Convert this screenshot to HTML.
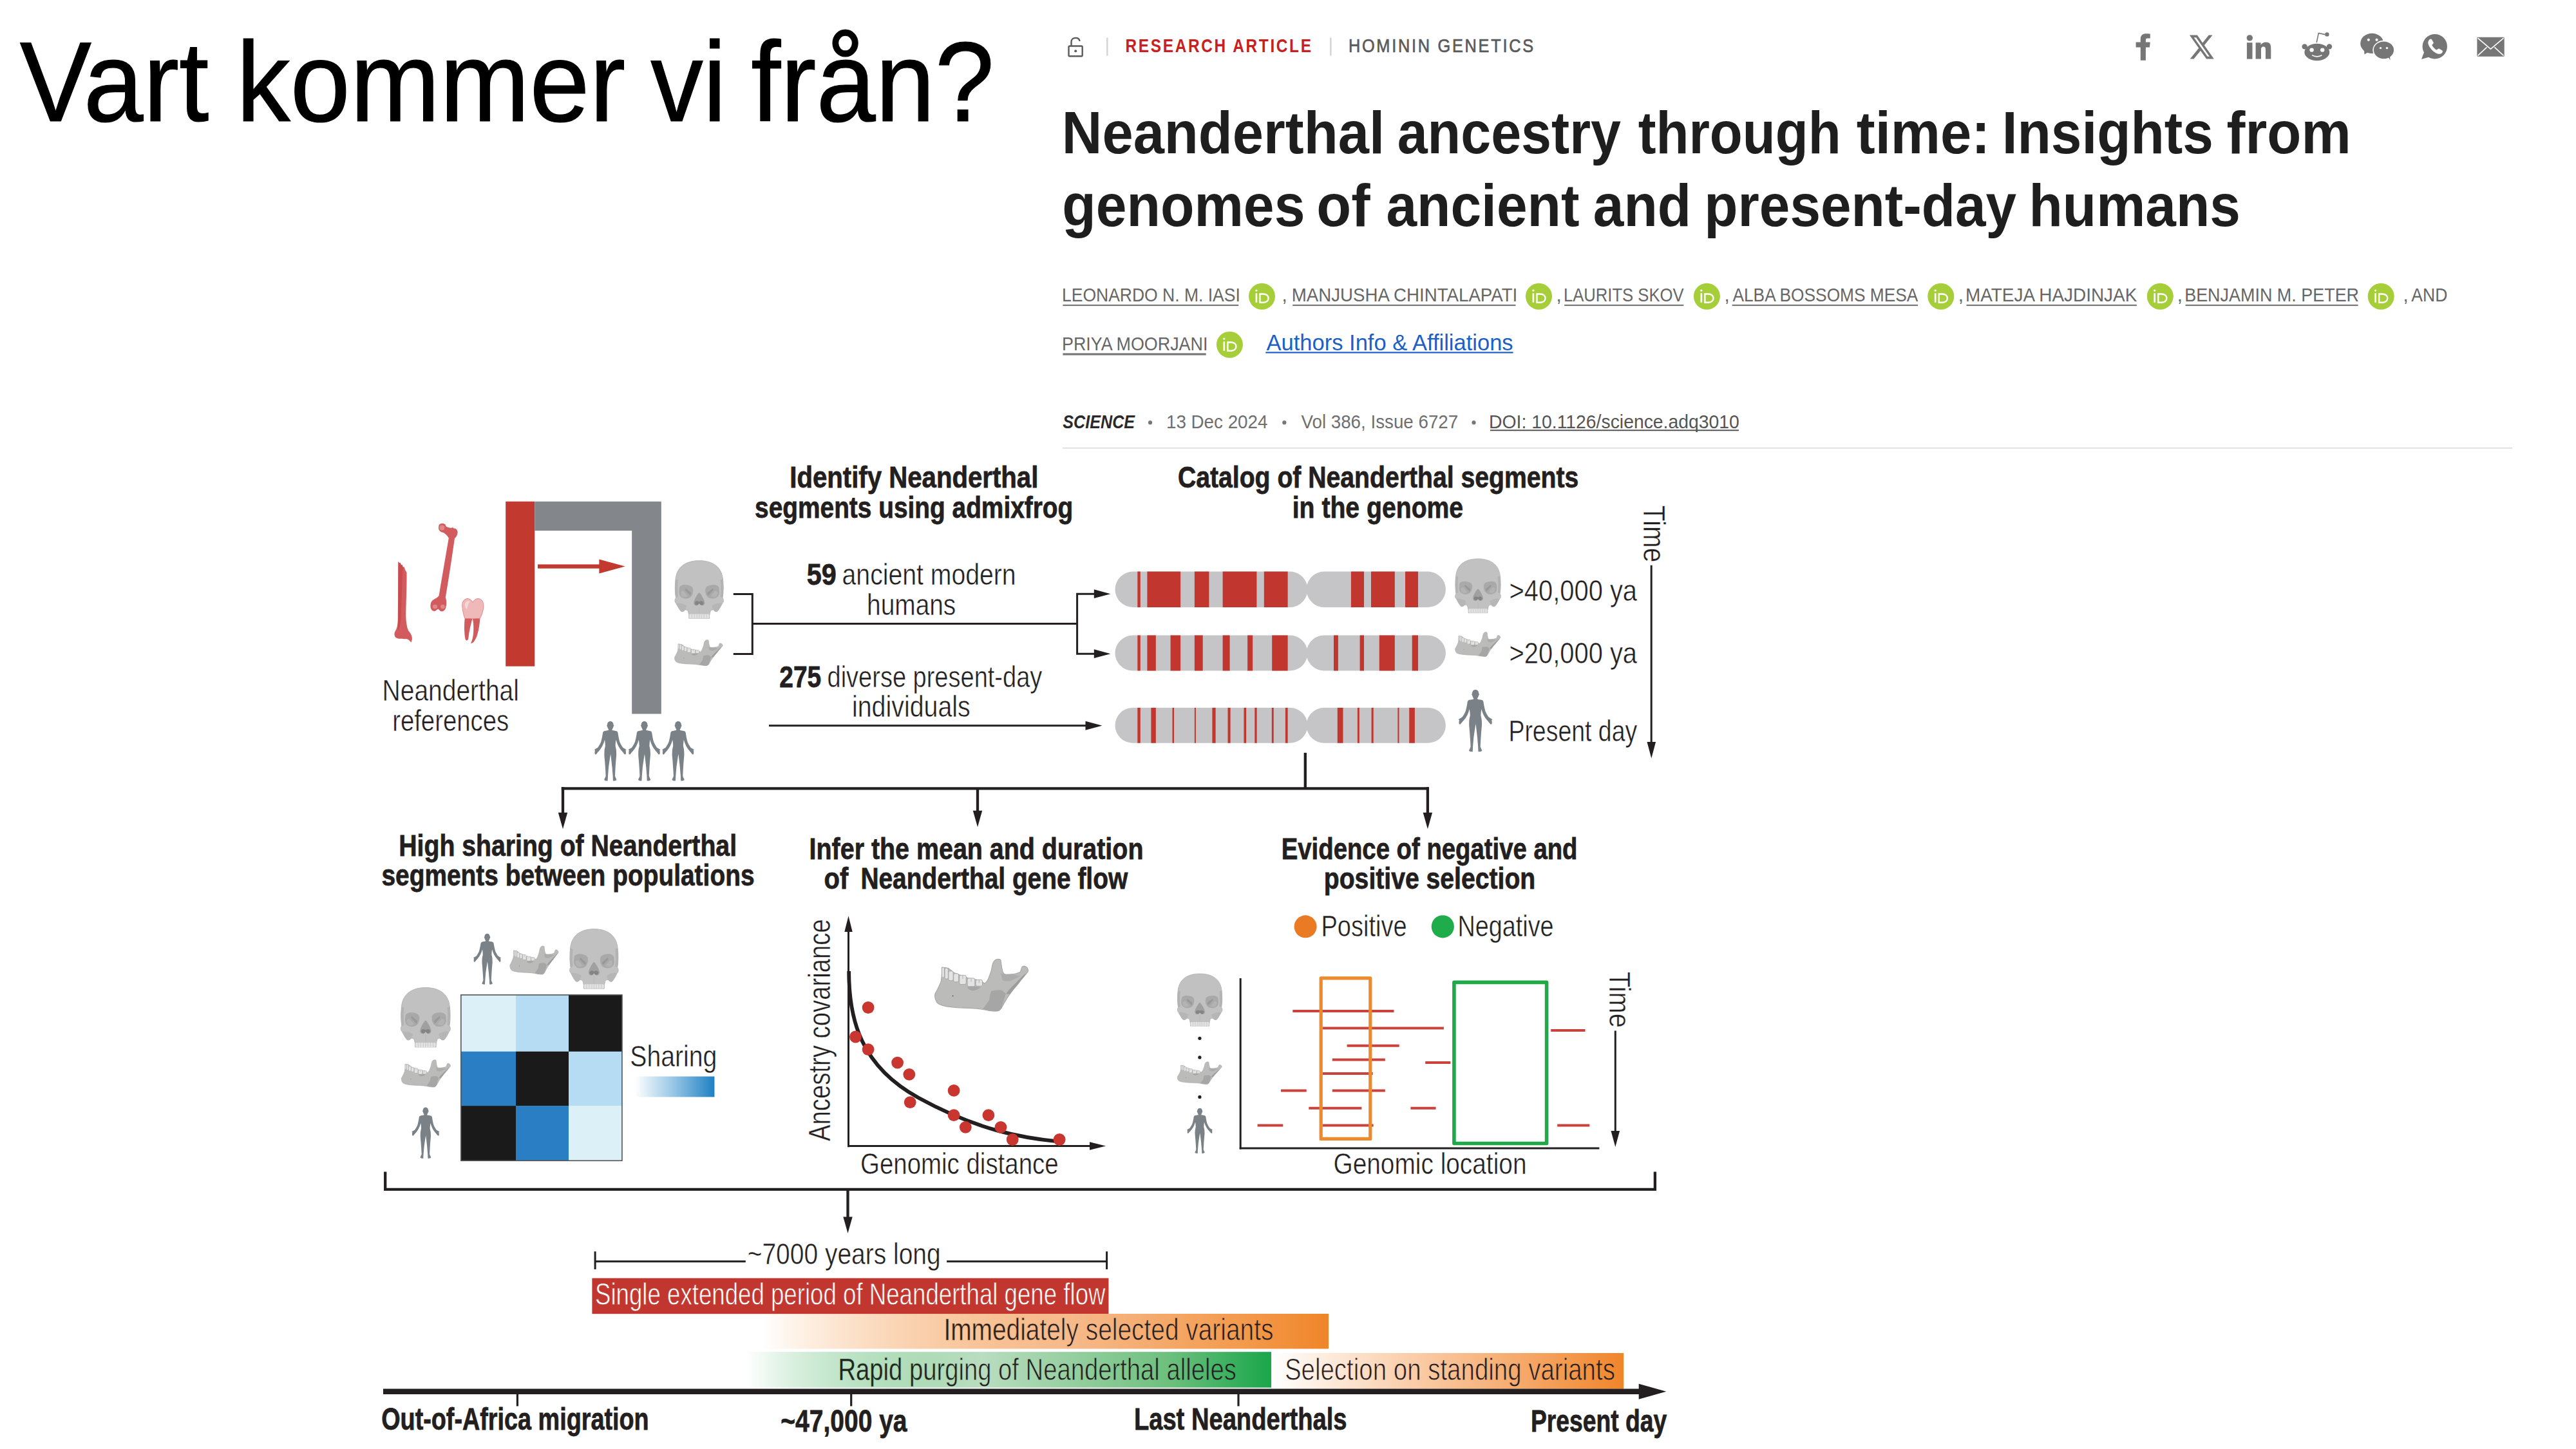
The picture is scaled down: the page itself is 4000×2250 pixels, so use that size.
<!DOCTYPE html>
<html><head><meta charset="utf-8"><title>Vart kommer vi från?</title>
<style>
html,body{margin:0;padding:0;background:#ffffff;}
body{width:4000px;height:2250px;overflow:hidden;position:relative;}
svg{position:absolute;left:0;top:0;display:block;}
svg text{font-family:"Liberation Sans",Arial,sans-serif;}
</style></head>
<body>
<svg width="4000" height="2250" viewBox="0 0 4000 2250">
<rect width="4000" height="2250" fill="#ffffff"/>

<defs>
 <linearGradient id="gShare" x1="0" x2="1" y1="0" y2="0">
  <stop offset="0" stop-color="#ffffff"/><stop offset="0.45" stop-color="#9fcbe8"/><stop offset="1" stop-color="#1f80c2"/>
 </linearGradient>
 <linearGradient id="gOr1" gradientUnits="userSpaceOnUse" x1="1182" x2="2063" y1="0" y2="0">
  <stop offset="0" stop-color="#f28a2c" stop-opacity="0"/><stop offset="0.55" stop-color="#f6b98a"/><stop offset="0.85" stop-color="#f39a4c"/><stop offset="1" stop-color="#f0852a"/>
 </linearGradient>
 <linearGradient id="gGr" gradientUnits="userSpaceOnUse" x1="1158" x2="1974" y1="0" y2="0">
  <stop offset="0" stop-color="#2aa84a" stop-opacity="0"/><stop offset="0.45" stop-color="#b9ddbf"/><stop offset="0.8" stop-color="#6fc07f"/><stop offset="1" stop-color="#1aa64a"/>
 </linearGradient>
 <linearGradient id="gOr2" gradientUnits="userSpaceOnUse" x1="1974" x2="2521" y1="0" y2="0">
  <stop offset="0" stop-color="#ffffff"/><stop offset="0.35" stop-color="#fbd3b3"/><stop offset="0.75" stop-color="#f5a462"/><stop offset="1" stop-color="#f0852a"/>
 </linearGradient>
 <clipPath id="cpL"><rect x="1731.5" y="-10" width="298.9" height="3000" rx="27.6"/></clipPath>
 <symbol id="skull" viewBox="0 0 76 94" preserveAspectRatio="none" overflow="visible">
  <path fill="#c1c1c1" stroke="#adadad" stroke-width="0.8" d="M38,0 C58,0 73,9 75,30 C76,40 76,52 74.5,60 C76.5,62 76.5,67 74,69 C72,73 70,77 67,81 C65,83 62,82 60,79 L56,80 C55,83 54.5,86 54,88 L54,93 L22,93 L22,88 C21.5,86 21,83 20,80 L16,79 C14,82 11,83 9,81 C6,77 4,73 2,69 C-0.5,67 -0.5,62 1.5,60 C0,52 0,40 1,30 C3,9 18,0 38,0 Z"/>
  <path fill="#b3b3b3" d="M1,30 C0,40 0,52 1.5,60 L5,58 C4,50 4,40 5,31 Z M75,30 C76,40 76,52 74.5,60 L71,58 C72,50 72,40 71,31 Z"/>
  <path fill="#b6b6b6" d="M2,69 C4,73 6,77 9,81 C11,83 14,82 16,79 L18.5,73 C15,70 10,68.5 5,68.5 Z M74,69 C72,73 70,77 67,81 C65,83 62,82 60,79 L57.5,73 C61,70 66,68.5 71,68.5 Z"/>
  <path fill="#a9a9a9" d="M7,44 C8,40 12,38.5 18,39 C24,39.5 28.5,42 28.5,47 C28.5,54 26,60.5 18,61 C11,61.5 6.5,57 6.5,51 Z"/>
  <path fill="#b3b3b3" d="M9,52 C10,48.5 12.5,48 14,49.5 L20,57 C17.5,59.5 12.5,59.5 10.5,57 Z"/>
  <path fill="#939393" opacity="0.7" d="M17,44.5 L25.5,52 L24,56.5 L15.5,47 Z"/>
  <path fill="#a9a9a9" d="M69,44 C68,40 64,38.5 58,39 C52,39.5 47.5,42 47.5,47 C47.5,54 50,60.5 58,61 C65,61.5 69.5,57 69.5,51 Z"/>
  <path fill="#b3b3b3" d="M67,52 C66,48.5 63.5,48 62,49.5 L56,57 C58.5,59.5 63.5,59.5 65.5,57 Z"/>
  <path fill="#939393" opacity="0.7" d="M59,44.5 L50.5,52 L52,56.5 L60.5,47 Z"/>
  <path fill="#a0a0a0" d="M37.5,51.7 C35,54 30.5,62 29.5,67 C29,71 32,73 35,72 C36.5,71.5 37.5,70 38,69 C38.5,70 39.5,71.5 41,72 C44,73 47,71 46.5,67 C45.5,62 41,54 38.5,51.7 Z"/>
  <path fill="#848484" d="M31,68 C32,65 35,64 37.3,66 L38.7,66 C41,64 44,65 45,68 C44.5,71 42,72.5 40,71 L38,69 L36,71 C34,72.5 31.5,71 31,68 Z"/>
  <path fill="none" stroke="#b4b4b4" stroke-width="0.6" d="M38,73 V86"/>
  <rect x="22.5" y="86" width="31" height="7" rx="1.5" fill="#e2e2e2"/>
  <path stroke="#c4c4c4" stroke-width="0.8" d="M26.5,86 V93 M30.5,86 V93 M34.5,86 V93 M38,86 V93 M41.5,86 V93 M45.5,86 V93 M49.5,86 V93"/>
 </symbol>
 <symbol id="jaw" viewBox="0 0 145 82" preserveAspectRatio="none" overflow="visible">
  <path fill="#bbbbba" stroke="#a9a9a9" stroke-width="1.2" d="M11,13 L20.8,14.3 L29.9,21.4 L40.2,25.3 L51.9,29.9 L64.9,32.4 L73.3,35 L77.2,38.3 C80,36 82,34 83.1,31.1 C85,26 86.5,22 87.6,18.8 C89,12 89.5,8 90.9,5.2 C93,1.5 96,0.3 98.6,0.3 C101,0.3 102.5,1.2 102.5,2.6 C103,6 103.3,9 103.8,12.3 C104.5,16 105,18.5 105.8,20.8 C107,23 108.5,24 110.3,24 C114,24.2 119,24 123.3,23.4 C127,22.5 130.5,21.5 133,20.1 C134,17 134.8,14 135.6,12.3 C136.5,11.2 137.5,11 138.9,11 C140.8,11.4 142.4,12.3 143.4,13.6 C144.6,15.3 145,17 145,18.8 C144.5,20.3 143.8,21.3 142.8,22 C138,28 133.5,33 129.8,38.3 C125,44 120.5,49 116.8,54.5 C114.5,57.5 112.2,60.8 110.3,64.2 C108,68 106,72 103.8,75.9 C101.8,78.8 99.8,80.6 97.3,81.1 C93,81.4 88.5,81 84.4,80.5 C78,79.3 71.5,77.8 64.9,77.2 C56,76.5 47.5,76 38.9,75.9 C30,75.5 21,74.6 13,72.7 C8.5,71.5 5,70 3.2,67.5 C1,64 0,60 0,56.5 C0.3,54 1.5,51.5 3.2,49.3 C5.5,44.5 8,40 9.7,35 C10.5,30.5 11,26 11,22 Z"/>
  <path fill="#a6a6a6" d="M87.6,50 C93,48.7 98,48.3 103.8,48.7 C106,50 108.5,52 110.3,54.5 C108,61 106,68 103.8,75.9 C101.8,78.8 99.8,80.6 97.3,81.1 C90,81.2 82,79.5 74.6,77.9 C78,73 81,69 84.4,64.2 C85.5,59 86,54 87.6,50 Z"/>
  <path fill="#9d9d9d" d="M142.8,22 C138,28 133.5,33 129.8,38.3 C125,44 120.5,49 116.8,54.5 L110.3,54.5 C114,49 118,45 121,42 C127,36 133,30 138.5,24.5 Z"/>
  <path fill="#acacac" d="M102.5,22 C103.5,26 104,30 105,33 C109,34.5 113,34.8 116.8,34.4 C122,32 127.5,29 133,26.6 C128,25.8 125,24.9 123,24.7 C117,25 112,25 108,24 C105,23.5 103.5,22.5 102.5,22 Z"/>
  <path fill="#a6a6a6" d="M50,44 C53,47.5 56,49.3 58.4,49.3 C63,49 68,47 71.4,44 C66,42.5 60,42.4 55,43 Z"/>
  <rect x="11" y="13" width="3.9" height="16.2" rx="2.2" fill="#e4e4e4" stroke="#a5a5a5" stroke-width="0.9"/>
  <rect x="15.6" y="14.3" width="5.2" height="16.8" rx="2.2" fill="#e4e4e4" stroke="#a5a5a5" stroke-width="0.9"/>
  <rect x="21.4" y="18.8" width="7.2" height="14.9" rx="2.2" fill="#e4e4e4" stroke="#a5a5a5" stroke-width="0.9"/>
  <rect x="29.2" y="22.7" width="7.8" height="13.0" rx="2.2" fill="#e4e4e4" stroke="#a5a5a5" stroke-width="0.9"/>
  <rect x="38.3" y="25.3" width="10.4" height="14.3" rx="2.2" fill="#e4e4e4" stroke="#a5a5a5" stroke-width="0.9"/>
  <rect x="50.6" y="29.9" width="11.7" height="12.9" rx="2.2" fill="#e4e4e4" stroke="#a5a5a5" stroke-width="0.9"/>
  <rect x="63.6" y="32.4" width="10.4" height="9.8" rx="2.2" fill="#e4e4e4" stroke="#a5a5a5" stroke-width="0.9"/>
  <path fill="none" stroke="#a5a5a5" stroke-width="0.8" d="M43.5,25.8 V31 M56.5,30.4 V35.5 M68.8,33 V37.5"/>
  <circle cx="28" cy="57.5" r="0.9" fill="#555"/>
 </symbol>
 <symbol id="human" viewBox="-0.4 0 53.4 97" preserveAspectRatio="none" overflow="visible">
  <path fill="#7b8287" d="M26.3,0 C29.5,0 31.5,2.5 31.5,6 L32.3,7 L31.3,9 C30.8,11 30,12.2 29.3,13.2 L29.5,14.6 C32,15.2 35.5,15.3 37.2,16.3 C38.5,17.2 38.9,19 39.1,21 C39.7,25 40.8,30 41.8,33.5 C43.5,37.5 45.5,40.5 47,42.6 C49,44 51.5,45 53,46.3 L51.5,47 C52.2,49 52.3,51.5 51.8,53.5 L50,53.8 C48.5,52 46.5,49.5 44.6,47.5 C41,43.5 37.8,38 35.6,30 C35.2,33.5 34.6,37 34.7,40.2 C35.5,43.5 36.3,47 36.2,50.5 C36.5,54 36.2,57 35.8,60.7 C35.3,66 35,71 34.7,75.3 C34.4,80 34.2,85 34,88.5 C34.5,91 36.2,93 36.6,95 C35,96.6 32.5,96.8 30.7,96.6 C30.5,94 30.6,91 30.4,88.5 C30,84 29.6,80 29.3,75.3 C28.8,70 28,64 27.4,58.5 L26.7,53.2 L25.8,58.5 C25,64 24,70 23.4,75.3 C23,80 22.7,84 22.3,88.5 C22.1,91 22.2,94 21.9,96.6 C20,96.8 17.6,96.6 16.1,95 C16.5,93 18.2,91 18.7,88.5 C18.5,85 18.3,80 17.9,75.3 C17.6,71 17.3,66 16.8,60.7 C16.4,57 16.1,54 16.4,50.5 C16.3,47 17.1,43.5 17.9,40.2 C18,37 17.4,33.5 17,30 C14.8,38 11.6,43.5 8,47.5 C6.1,49.5 4.1,52 2.6,53.8 L0.8,53.5 C0.3,51.5 0.4,49 1.1,47 L-0.4,46.3 C1.1,45 3.6,44 5.6,42.6 C7.1,40.5 9.1,37.5 10.8,33.5 C11.8,30 12.9,25 13.5,21 C13.7,19 14.1,17.2 15.4,16.3 C17.1,15.3 20.6,15.2 23.1,14.6 L23.3,13.2 C22.6,12.2 21.8,11 21.3,9 L20.3,7 L21.1,6 C21.1,2.5 23.1,0 26.3,0 Z"/>
 </symbol>
 <symbol id="orcid" viewBox="0 0 41 41" overflow="visible">
  <circle cx="20.5" cy="20.5" r="20.5" fill="#a6ce39"/>
  <rect x="10.6" y="15.6" width="2.6" height="14.4" fill="#fff"/>
  <circle cx="11.9" cy="11.4" r="1.7" fill="#fff"/>
  <path fill="none" stroke="#fff" stroke-width="2.4" d="M17.5,16.8 H22.6 C27.6,16.8 30.6,19.6 30.6,23.4 C30.6,27.2 27.6,30 22.6,30 H17.5 Z"/>
 </symbol>
</defs>

<text x="30.83" y="188.00" font-size="177.00" textLength="293.43" lengthAdjust="spacingAndGlyphs" fill="#000000" stroke="#000" stroke-width="1.2">Vart</text>
<text x="367.06" y="188.00" font-size="177.00" textLength="604.10" lengthAdjust="spacingAndGlyphs" fill="#000000" stroke="#000" stroke-width="1.2">kommer</text>
<text x="1010.17" y="188.00" font-size="177.00" textLength="117.71" lengthAdjust="spacingAndGlyphs" fill="#000000" stroke="#000" stroke-width="1.2">vi</text>
<text x="1166.18" y="188.00" font-size="177.00" textLength="377.67" lengthAdjust="spacingAndGlyphs" fill="#000000" stroke="#000" stroke-width="1.2">från?</text>
<g fill="none" stroke="#5b5b5b" stroke-width="2.4"><rect x="1659.5" y="71.5" width="21.2" height="15.8" rx="1.6"/><path d="M1663.5,71.5 V65 C1663.5,57 1676.5,57 1676.5,64"/></g><circle cx="1670.2" cy="79.3" r="2" fill="#5b5b5b"/>
<rect x="1718" y="58.5" width="2.6" height="28" fill="#d6d6d6"/>
<rect x="2065" y="58.5" width="2.6" height="28" fill="#d6d6d6"/>
<text x="1747.59" y="81.10" font-size="29.50" textLength="291.02" lengthAdjust="spacingAndGlyphs" fill="#c8201e" font-weight="bold" letter-spacing="3.2">RESEARCH ARTICLE</text>
<text x="2093.92" y="81.10" font-size="29.50" textLength="289.95" lengthAdjust="spacingAndGlyphs" fill="#5a5a5a" stroke="#5a5a5a" stroke-width="0.7" letter-spacing="3.2">HOMININ GENETICS</text>
<text x="1648.78" y="238.20" font-size="92.00" textLength="501.24" lengthAdjust="spacingAndGlyphs" fill="#1e1e1e" font-weight="bold">Neanderthal</text>
<text x="2169.64" y="238.20" font-size="92.00" textLength="347.38" lengthAdjust="spacingAndGlyphs" fill="#1e1e1e" font-weight="bold">ancestry</text>
<text x="2543.70" y="238.20" font-size="92.00" textLength="314.94" lengthAdjust="spacingAndGlyphs" fill="#1e1e1e" font-weight="bold">through</text>
<text x="2882.76" y="238.20" font-size="92.00" textLength="207.30" lengthAdjust="spacingAndGlyphs" fill="#1e1e1e" font-weight="bold">time:</text>
<text x="3108.75" y="238.20" font-size="92.00" textLength="328.13" lengthAdjust="spacingAndGlyphs" fill="#1e1e1e" font-weight="bold">Insights</text>
<text x="3457.61" y="238.20" font-size="92.00" textLength="193.12" lengthAdjust="spacingAndGlyphs" fill="#1e1e1e" font-weight="bold">from</text>
<text x="1649.26" y="350.80" font-size="92.00" textLength="377.19" lengthAdjust="spacingAndGlyphs" fill="#1e1e1e" font-weight="bold">genomes</text>
<text x="2044.25" y="350.80" font-size="92.00" textLength="83.26" lengthAdjust="spacingAndGlyphs" fill="#1e1e1e" font-weight="bold">of</text>
<text x="2152.40" y="350.80" font-size="92.00" textLength="300.04" lengthAdjust="spacingAndGlyphs" fill="#1e1e1e" font-weight="bold">ancient</text>
<text x="2473.80" y="350.80" font-size="92.00" textLength="152.27" lengthAdjust="spacingAndGlyphs" fill="#1e1e1e" font-weight="bold">and</text>
<text x="2646.33" y="350.80" font-size="92.00" textLength="484.76" lengthAdjust="spacingAndGlyphs" fill="#1e1e1e" font-weight="bold">present-day</text>
<text x="3150.58" y="350.80" font-size="92.00" textLength="328.25" lengthAdjust="spacingAndGlyphs" fill="#1e1e1e" font-weight="bold">humans</text>
<text x="1649.03" y="467.50" font-size="29.40" textLength="276.82" lengthAdjust="spacingAndGlyphs" fill="#666666">LEONARDO N. M. IASI</text>
<rect x="1650.4" y="472.9" width="272.8" height="2.2" fill="#777"/>
<use href="#orcid" x="1939.0" y="439.7" width="41" height="41"/>
<text x="1990.5" y="467.5" font-size="29.4" fill="#666666">,</text>
<text x="2005.73" y="467.50" font-size="29.40" textLength="350.53" lengthAdjust="spacingAndGlyphs" fill="#666666">MANJUSHA CHINTALAPATI</text>
<rect x="2007.2" y="472.9" width="346.3" height="2.2" fill="#777"/>
<use href="#orcid" x="2369.0" y="439.7" width="41" height="41"/>
<text x="2416.5" y="467.5" font-size="29.4" fill="#666666">,</text>
<text x="2427.90" y="467.50" font-size="29.40" textLength="186.70" lengthAdjust="spacingAndGlyphs" fill="#666666">LAURITS SKOV</text>
<rect x="2429.2" y="472.9" width="185.1" height="2.2" fill="#777"/>
<use href="#orcid" x="2629.9" y="439.7" width="41" height="41"/>
<text x="2677.5" y="467.5" font-size="29.4" fill="#666666">,</text>
<text x="2690.45" y="467.50" font-size="29.40" textLength="287.96" lengthAdjust="spacingAndGlyphs" fill="#666666">ALBA BOSSOMS MESA</text>
<rect x="2689.7" y="472.9" width="288.5" height="2.2" fill="#777"/>
<use href="#orcid" x="2993.3" y="439.7" width="41" height="41"/>
<text x="3040.8" y="467.5" font-size="29.4" fill="#666666">,</text>
<text x="3052.01" y="467.50" font-size="29.40" textLength="266.28" lengthAdjust="spacingAndGlyphs" fill="#666666">MATEJA HAJDINJAK</text>
<rect x="3053.5" y="472.9" width="264.3" height="2.2" fill="#777"/>
<use href="#orcid" x="3333.8" y="439.7" width="41" height="41"/>
<text x="3380.8" y="467.5" font-size="29.4" fill="#666666">,</text>
<text x="3392.19" y="467.50" font-size="29.40" textLength="270.87" lengthAdjust="spacingAndGlyphs" fill="#666666">BENJAMIN M. PETER</text>
<rect x="3393.6" y="472.9" width="268.0" height="2.2" fill="#777"/>
<use href="#orcid" x="3676.7" y="439.7" width="41" height="41"/>
<text x="3731.5" y="467.5" font-size="29.4" fill="#666666">,</text>
<text x="3744.35" y="467.50" font-size="29.40" textLength="56.06" lengthAdjust="spacingAndGlyphs" fill="#666666">AND</text>
<text x="1649.00" y="544.10" font-size="29.40" textLength="226.35" lengthAdjust="spacingAndGlyphs" fill="#666666">PRIYA MOORJANI</text>
<rect x="1650.4" y="548.4" width="222.3" height="3.2" fill="#777"/>
<use href="#orcid" x="1888.9" y="514.7" width="41" height="41"/>
<text x="1966.53" y="544.00" font-size="35.60" textLength="383.08" lengthAdjust="spacingAndGlyphs" fill="#1c5fc7">Authors Info &amp; Affiliations</text>
<rect x="1965.3" y="546.3" width="384.3" height="2.2" fill="#1c5fc7"/>
<text x="1650.30" y="664.60" font-size="29.80" textLength="111.78" lengthAdjust="spacingAndGlyphs" fill="#2a2a2a" font-weight="bold" font-style="italic">SCIENCE</text>
<circle cx="1786" cy="656.2" r="3.1" fill="#777"/>
<text x="1810.99" y="664.60" font-size="29.40" textLength="157.41" lengthAdjust="spacingAndGlyphs" fill="#6f6f6f">13 Dec 2024</text>
<circle cx="1994.3" cy="656.2" r="3.1" fill="#777"/>
<text x="2020.49" y="664.60" font-size="29.40" textLength="243.72" lengthAdjust="spacingAndGlyphs" fill="#6f6f6f">Vol 386, Issue 6727</text>
<circle cx="2288.5" cy="656.2" r="3.1" fill="#777"/>
<text x="2312.08" y="664.60" font-size="29.40" textLength="388.79" lengthAdjust="spacingAndGlyphs" fill="#555555">DOI: 10.1126/science.adq3010</text>
<rect x="2314" y="667.2" width="386" height="2" fill="#555"/>
<rect x="1650" y="694.9" width="2251" height="1.6" fill="#d9d9d9"/>
<g fill="#767676">
<path d="M3323.8,93.8 V73.5 H3316.6 V65.5 H3323.8 V60.5 C3323.8,54.8 3327.3,52.2 3332.5,52.2 C3335,52.2 3337.2,52.4 3338.8,52.6 V59.6 H3334.8 C3332.4,59.6 3331.9,60.8 3331.9,62.5 V65.5 H3338.8 L3337.9,73.5 H3331.9 V93.8 Z"/>
<path transform="translate(3397.7,50.3) scale(1.757,1.897)" d="M18.244 2.25h3.308l-7.227 8.26 8.502 11.24H16.17l-5.214-6.817L4.99 21.75H1.68l7.73-8.835L1.254 2.25H8.08l4.713 6.231zm-1.161 17.52h1.833L7.084 4.126H5.117z"/>
<circle cx="3493.3" cy="58.9" r="4.7"/><rect x="3488.9" y="66.2" width="8.6" height="25.4"/><path d="M3502.6,66.2 H3510.5 V69.8 C3512,67.4 3514.8,65.6 3518.6,65.6 C3525,65.6 3526.3,69.8 3526.3,75.4 V91.6 H3518 V77.3 C3518,74.9 3517.6,72.6 3514.8,72.6 C3511.8,72.6 3511,74.7 3511,77.4 V91.6 H3502.6 Z"/>
</g>
<g fill="#767676"><ellipse cx="3597.8" cy="81" rx="19.5" ry="13.2"/><circle cx="3578.6" cy="72.4" r="4.2"/><circle cx="3617" cy="72.4" r="4.2"/><circle cx="3613.4" cy="53.4" r="3.2"/><path d="M3597.2,66 L3600.3,51.4 L3610.4,53.6" fill="none" stroke="#767676" stroke-width="1.6"/></g><circle cx="3589.6" cy="77.6" r="3.2" fill="#fff"/><circle cx="3606.2" cy="77.6" r="3.2" fill="#fff"/><path d="M3590.2,85.6 C3594.6,88.6 3601,88.6 3605.4,85.6" fill="none" stroke="#fff" stroke-width="1.6"/>
<g fill="#767676"><ellipse cx="3683.2" cy="67.4" rx="18" ry="15.6"/><path d="M3671,78 L3671.5,84.5 L3679,80 Z"/></g><ellipse cx="3701.5" cy="77.8" rx="16.4" ry="14.2" fill="#767676" stroke="#fff" stroke-width="1.6"/><path d="M3708,88 L3711.5,93.5 L3711,86 Z" fill="#767676"/><circle cx="3677.8" cy="61.8" r="2.1" fill="#fff"/><circle cx="3690.6" cy="61.8" r="2.1" fill="#fff"/><circle cx="3696.5" cy="74.6" r="1.7" fill="#fff"/><circle cx="3706.5" cy="74.6" r="1.7" fill="#fff"/>
<g fill="#767676"><circle cx="3780.8" cy="72.2" r="19.2"/><path d="M3760,92 L3764.5,80 L3772,88.5 Z"/></g><path fill="#fff" d="M3772.3,61.6 C3773.6,60.4 3775.4,59.8 3776.2,61.4 L3778.6,65.8 C3779.1,66.9 3778.4,67.8 3777.6,68.6 L3776.3,69.8 C3777.8,73.3 3780.5,76 3783.8,77.6 L3785.2,76.2 C3786,75.4 3786.9,75.1 3787.9,75.7 L3792.1,78.2 C3793.5,79.1 3793.1,80.9 3791.8,82.2 C3790.2,83.9 3787.6,84.3 3785.2,83.4 C3778.6,80.9 3772.9,75.2 3770.6,68.4 C3769.8,65.9 3770.5,63.4 3772.3,61.6 Z"/>
<rect x="3846.4" y="57.8" width="42.3" height="30" rx="1.2" fill="#767676"/><path d="M3847.5,59.2 L3867.5,76.2 L3887.6,59.2 M3847.5,86.4 L3861.5,73.4 M3887.6,86.4 L3873.5,73.4" fill="none" stroke="#fff" stroke-width="1.6"/>
<path fill="#d25b5e" d="M618.4,872 L620.3,874.5 L621.4,873.6 L623,877.5 L624.3,876.8 L625.8,880.5 L627.6,880.2 L629,884.5 L631.5,889 C631.8,910 630.5,935 630.3,955 C630.3,965 631.5,973 634,979 C637,983 640.5,987 639.8,993 L638.4,997.5 C636.5,995.5 635,993.5 632,992.3 C627,991.8 620,992.8 615.5,990.5 C612.3,988.6 611.6,984 613.5,980.5 C616,977 617.5,972 617.8,962 C618.3,935 618,900 618.4,872 Z"/>
<path fill="#bf3f43" opacity="0.55" d="M618.4,872 L620.3,874.5 L621.4,873.6 L623,877.5 L624.3,876.8 L625.8,880.5 C624.5,900 623.5,930 622.5,960 C622,968 620.5,975 618,979 C618.5,960 618.2,900 618.4,872 Z"/>
<path fill="#d25b5e" d="M681.5,815.5 C682.8,812.2 688.5,811.8 691.3,814.3 L692.8,817.6 C696.5,819.6 700.5,820.6 703,819 L704.8,820.6 C707.5,820.2 710.3,822.5 710.6,826 C710.7,830 709,833.5 706,836 C702.5,860 697.5,895 691.8,927.5 C693.6,932 693.6,938.5 692.2,944 C690.6,948.6 686.6,950.8 683.4,948.6 L680.3,945.6 L677.3,947.8 C674,950.4 670.2,948.5 669,944.6 C667.8,940.2 668.6,935.2 671.6,932.3 C675.6,929.2 679.6,928.2 681.6,925 C686.6,895 692.6,860 696.8,835.5 C693.8,830.6 690,827.6 686.8,826.6 C683,826 680.6,822.6 681,818.8 Z"/>
<circle cx="686.3" cy="819.6" r="4" fill="#e89a9b" opacity="0.7"/>
<ellipse cx="675.5" cy="942" rx="3.6" ry="3.3" fill="#e89a9b" opacity="0.7"/><ellipse cx="687.5" cy="942" rx="3.4" ry="3.3" fill="#e89a9b" opacity="0.7"/>
<path fill="#d25b5e" d="M722,958 C720.5,970 720.8,984 722.6,992.6 C724.2,996 727,994.8 727.4,990.6 C728.3,980 731,970 733.4,961 Z"/>
<path fill="#d25b5e" d="M734,961 C736.5,975 735.5,990 731.2,999 C734.5,999.5 738.5,994 741.2,985.5 C744,976 745,967.5 745.4,959 Z"/>
<path fill="#efb9ba" stroke="#d8777a" stroke-width="0.8" d="M718.3,945 C716.2,936.2 719.8,929.6 726,929.6 C730,929.6 732.2,931.8 734,935.6 C735.8,931.8 738.4,929.6 742.4,929.6 C748.6,929.6 752.4,936.4 750.4,946 C749.3,951.6 747.3,956.8 745.3,960.4 L722,960.4 C720.2,956.6 719,951.6 718.3,945 Z"/>
<path fill="#f6d7d8" d="M722,938 C723,933.5 727,932 730,934 C728,936 726,940 725,946 C723,945 721.8,941.5 722,938 Z"/>
<rect x="785.2" y="778.7" width="45.1" height="255.9" fill="#c1392f"/>
<path fill="#83878b" d="M830.3,778.7 H1026.8 V1108.5 H981.2 V823.9 H830.3 Z"/>
<rect x="835" y="876.4" width="97" height="6.3" fill="#c1392f"/>
<polygon fill="#c1392f" points="930.4,868.5 970.7,879.5 930.4,890.5"/>
<use href="#skull" x="1048.0" y="870.6" width="75.5" height="90.6"/>
<use href="#jaw" x="1047.5" y="993.5" width="74.5" height="40.5"/>
<use href="#human" x="922.7" y="1119.9" width="50.1" height="93.0"/>
<use href="#human" x="975.5" y="1119.9" width="50.1" height="93.0"/>
<use href="#human" x="1028.0" y="1119.9" width="50.1" height="93.0"/>
<text x="593.61" y="1088.00" font-size="46.50" textLength="212.28" lengthAdjust="spacingAndGlyphs" fill="#231f20" stroke="#ffffff" stroke-width="0.5">Neanderthal</text>
<text x="609.17" y="1135.00" font-size="46.50" textLength="180.93" lengthAdjust="spacingAndGlyphs" fill="#231f20" stroke="#ffffff" stroke-width="0.5">references</text>
<text x="1226.25" y="757.20" font-size="47.00" textLength="386.12" lengthAdjust="spacingAndGlyphs" fill="#231f20" font-weight="bold" stroke="#231f20" stroke-width="0.8">Identify Neanderthal</text>
<text x="1172.08" y="803.70" font-size="47.00" textLength="494.21" lengthAdjust="spacingAndGlyphs" fill="#231f20" font-weight="bold" stroke="#231f20" stroke-width="0.8">segments using admixfrog</text>
<text x="1828.93" y="757.20" font-size="47.00" textLength="622.34" lengthAdjust="spacingAndGlyphs" fill="#231f20" font-weight="bold" stroke="#231f20" stroke-width="0.8">Catalog of Neanderthal segments</text>
<text x="2006.74" y="803.70" font-size="47.00" textLength="265.41" lengthAdjust="spacingAndGlyphs" fill="#231f20" font-weight="bold" stroke="#231f20" stroke-width="0.8">in the genome</text>
<text x="1252.76" y="908.20" font-size="47.00" textLength="46.05" lengthAdjust="spacingAndGlyphs" fill="#231f20" font-weight="bold" stroke="#231f20" stroke-width="0.8">59</text>
<text x="1307.55" y="908.20" font-size="46.50" textLength="270.10" lengthAdjust="spacingAndGlyphs" fill="#231f20" stroke="#ffffff" stroke-width="0.5">ancient modern</text>
<text x="1346.06" y="954.70" font-size="46.50" textLength="138.23" lengthAdjust="spacingAndGlyphs" fill="#231f20" stroke="#ffffff" stroke-width="0.5">humans</text>
<text x="1210.28" y="1067.10" font-size="47.00" textLength="64.95" lengthAdjust="spacingAndGlyphs" fill="#231f20" font-weight="bold" stroke="#231f20" stroke-width="0.8">275</text>
<text x="1284.50" y="1067.10" font-size="46.50" textLength="333.78" lengthAdjust="spacingAndGlyphs" fill="#231f20" stroke="#ffffff" stroke-width="0.5">diverse present-day</text>
<text x="1323.00" y="1113.00" font-size="46.50" textLength="183.69" lengthAdjust="spacingAndGlyphs" fill="#231f20" stroke="#ffffff" stroke-width="0.5">individuals</text>
<path fill="none" stroke="#231f20" stroke-width="3" d="M1138.8,922.4 H1168.3 V1015.5 H1138.8 M1168.3,968.5 H1672.6 M1699,922.2 H1672.6 V1015.2 H1699"/>
<polygon fill="#231f20" points="1698.8,915.3 1724.4,922.2 1698.8,929.1"/>
<polygon fill="#231f20" points="1698.8,1008.3 1724.4,1015.2 1698.8,1022.1"/>
<line x1="1194.0" y1="1126.8" x2="1687.5" y2="1126.8" stroke="#231f20" stroke-width="3"/>
<polygon fill="#231f20" points="1685.5,1119.8 1711.5,1126.8 1685.5,1133.8"/>
<clipPath id="cp887"><rect x="1731.5" y="887.6" width="298.9" height="55.299999999999955" rx="27.649999999999977"/><rect x="2028.6" y="887.6" width="216.3" height="55.299999999999955" rx="27.649999999999977"/></clipPath>
<g clip-path="url(#cp887)"><rect x="1725" y="886.6" width="530" height="57.299999999999955" fill="#c5c5c7"/>
<rect x="1766.3" y="886.6" width="4.5" height="57.299999999999955" fill="#c1372f"/>
<rect x="1781.4" y="886.6" width="51.7" height="57.299999999999955" fill="#c1372f"/>
<rect x="1854.9" y="886.6" width="22.5" height="57.299999999999955" fill="#c1372f"/>
<rect x="1898.6" y="886.6" width="52.8" height="57.299999999999955" fill="#c1372f"/>
<rect x="1962.8" y="886.6" width="36.8" height="57.299999999999955" fill="#c1372f"/>
<rect x="2097.9" y="886.6" width="20.1" height="57.299999999999955" fill="#c1372f"/>
<rect x="2129.0" y="886.6" width="36.8" height="57.299999999999955" fill="#c1372f"/>
<rect x="2182.0" y="886.6" width="20.0" height="57.299999999999955" fill="#c1372f"/>
</g>
<clipPath id="cp986"><rect x="1731.5" y="986.6" width="298.9" height="54.89999999999998" rx="27.44999999999999"/><rect x="2028.6" y="986.6" width="216.3" height="54.89999999999998" rx="27.44999999999999"/></clipPath>
<g clip-path="url(#cp986)"><rect x="1725" y="985.6" width="530" height="56.89999999999998" fill="#c5c5c7"/>
<rect x="1766.3" y="985.6" width="4.5" height="56.89999999999998" fill="#c1372f"/>
<rect x="1781.4" y="985.6" width="13.4" height="56.89999999999998" fill="#c1372f"/>
<rect x="1817.6" y="985.6" width="15.5" height="56.89999999999998" fill="#c1372f"/>
<rect x="1854.9" y="985.6" width="12.8" height="56.89999999999998" fill="#c1372f"/>
<rect x="1898.6" y="985.6" width="11.0" height="56.89999999999998" fill="#c1372f"/>
<rect x="1937.1" y="985.6" width="8.1" height="56.89999999999998" fill="#c1372f"/>
<rect x="1975.2" y="985.6" width="24.4" height="56.89999999999998" fill="#c1372f"/>
<rect x="2071.0" y="985.6" width="6.9" height="56.89999999999998" fill="#c1372f"/>
<rect x="2111.6" y="985.6" width="6.4" height="56.89999999999998" fill="#c1372f"/>
<rect x="2141.8" y="985.6" width="24.0" height="56.89999999999998" fill="#c1372f"/>
<rect x="2192.7" y="985.6" width="9.3" height="56.89999999999998" fill="#c1372f"/>
</g>
<clipPath id="cp1099"><rect x="1731.5" y="1099.0" width="298.9" height="54.700000000000045" rx="27.350000000000023"/><rect x="2028.6" y="1099.0" width="216.3" height="54.700000000000045" rx="27.350000000000023"/></clipPath>
<g clip-path="url(#cp1099)"><rect x="1725" y="1098.0" width="530" height="56.700000000000045" fill="#c5c5c7"/>
<rect x="1766.3" y="1098.0" width="4.5" height="56.700000000000045" fill="#c1372f"/>
<rect x="1787.4" y="1098.0" width="7.4" height="56.700000000000045" fill="#c1372f"/>
<rect x="1820.5" y="1098.0" width="2.5" height="56.700000000000045" fill="#c1372f"/>
<rect x="1854.9" y="1098.0" width="2.0" height="56.700000000000045" fill="#c1372f"/>
<rect x="1882.4" y="1098.0" width="5.2" height="56.700000000000045" fill="#c1372f"/>
<rect x="1906.5" y="1098.0" width="4.1" height="56.700000000000045" fill="#c1372f"/>
<rect x="1931.5" y="1098.0" width="3.6" height="56.700000000000045" fill="#c1372f"/>
<rect x="1948.3" y="1098.0" width="3.3" height="56.700000000000045" fill="#c1372f"/>
<rect x="1974.8" y="1098.0" width="2.9" height="56.700000000000045" fill="#c1372f"/>
<rect x="1995.9" y="1098.0" width="3.7" height="56.700000000000045" fill="#c1372f"/>
<rect x="2076.8" y="1098.0" width="8.7" height="56.700000000000045" fill="#c1372f"/>
<rect x="2107.9" y="1098.0" width="2.9" height="56.700000000000045" fill="#c1372f"/>
<rect x="2129.6" y="1098.0" width="3.1" height="56.700000000000045" fill="#c1372f"/>
<rect x="2170.4" y="1098.0" width="2.1" height="56.700000000000045" fill="#c1372f"/>
<rect x="2188.2" y="1098.0" width="8.7" height="56.700000000000045" fill="#c1372f"/>
</g>
<use href="#skull" x="2259.6" y="867.7" width="70.8" height="84.9"/>
<use href="#jaw" x="2259.6" y="981.4" width="70.1" height="38.4"/>
<use href="#human" x="2264.6" y="1071.1" width="53.0" height="96.6"/>
<text x="2343.59" y="932.90" font-size="46.50" textLength="198.46" lengthAdjust="spacingAndGlyphs" fill="#231f20" stroke="#ffffff" stroke-width="0.5">&gt;40,000 ya</text>
<text x="2343.59" y="1029.90" font-size="46.50" textLength="198.46" lengthAdjust="spacingAndGlyphs" fill="#231f20" stroke="#ffffff" stroke-width="0.5">&gt;20,000 ya</text>
<text x="2342.43" y="1151.00" font-size="46.50" textLength="199.76" lengthAdjust="spacingAndGlyphs" fill="#231f20" stroke="#ffffff" stroke-width="0.5">Present day</text>
<line x1="2564.2" y1="877.7" x2="2564.2" y2="1155.0" stroke="#231f20" stroke-width="3"/>
<polygon fill="#231f20" points="2557.5,1152.0 2564.3,1177.5 2571.1,1152.0"/>
<g transform="translate(2552.4,785.7) rotate(90)"><text x="-0.89" y="0.00" font-size="48.50" textLength="88.41" lengthAdjust="spacingAndGlyphs" fill="#231f20" stroke="#ffffff" stroke-width="0.5">Time</text></g>
<line x1="2026.8" y1="1168.9" x2="2026.8" y2="1224.3" stroke="#231f20" stroke-width="4.3"/>
<line x1="871.8" y1="1224.3" x2="2219.0" y2="1224.3" stroke="#231f20" stroke-width="4.3"/>
<line x1="874.0" y1="1222.2" x2="874.0" y2="1263.8" stroke="#231f20" stroke-width="4.3"/>
<polygon fill="#231f20" points="866.8,1261.8 874.0,1287.3 881.2,1261.8"/>
<line x1="1518.0" y1="1224.3" x2="1518.0" y2="1260.8" stroke="#231f20" stroke-width="4.3"/>
<polygon fill="#231f20" points="1510.8,1258.8 1518.0,1284.3 1525.2,1258.8"/>
<line x1="2216.9" y1="1222.2" x2="2216.9" y2="1263.8" stroke="#231f20" stroke-width="4.3"/>
<polygon fill="#231f20" points="2209.7,1261.8 2216.9,1287.3 2224.1,1261.8"/>
<text x="619.31" y="1329.00" font-size="47.00" textLength="524.74" lengthAdjust="spacingAndGlyphs" fill="#231f20" font-weight="bold" stroke="#231f20" stroke-width="0.8">High sharing of Neanderthal</text>
<text x="592.38" y="1375.40" font-size="47.00" textLength="579.15" lengthAdjust="spacingAndGlyphs" fill="#231f20" font-weight="bold" stroke="#231f20" stroke-width="0.8">segments between populations</text>
<text x="1256.60" y="1333.50" font-size="47.00" textLength="518.87" lengthAdjust="spacingAndGlyphs" fill="#231f20" font-weight="bold" stroke="#231f20" stroke-width="0.8">Infer the mean and duration</text>
<text x="1279.58" y="1380.00" font-size="47.00" textLength="37.84" lengthAdjust="spacingAndGlyphs" fill="#231f20" font-weight="bold" stroke="#231f20" stroke-width="0.8">of</text>
<text x="1336.43" y="1380.00" font-size="47.00" textLength="414.71" lengthAdjust="spacingAndGlyphs" fill="#231f20" font-weight="bold" stroke="#231f20" stroke-width="0.8">Neanderthal gene flow</text>
<text x="1989.77" y="1333.50" font-size="47.00" textLength="459.74" lengthAdjust="spacingAndGlyphs" fill="#231f20" font-weight="bold" stroke="#231f20" stroke-width="0.8">Evidence of negative and</text>
<text x="2055.80" y="1380.00" font-size="47.00" textLength="328.42" lengthAdjust="spacingAndGlyphs" fill="#231f20" font-weight="bold" stroke="#231f20" stroke-width="0.8">positive selection</text>
<rect x="715.8" y="1544.9" width="85.5" height="88.2" fill="#dcf0f8"/>
<rect x="801.0" y="1544.9" width="82.3" height="88.2" fill="#b6dcf3"/>
<rect x="883.0" y="1544.9" width="83.2" height="88.2" fill="#1a1a1a"/>
<rect x="715.8" y="1632.8" width="85.5" height="84.6" fill="#2a7fc4"/>
<rect x="801.0" y="1632.8" width="82.3" height="84.6" fill="#1a1a1a"/>
<rect x="883.0" y="1632.8" width="83.2" height="84.6" fill="#b6dcf3"/>
<rect x="715.8" y="1717.1" width="85.5" height="85.5" fill="#1a1a1a"/>
<rect x="801.0" y="1717.1" width="82.3" height="85.5" fill="#2a7fc4"/>
<rect x="883.0" y="1717.1" width="83.2" height="85.5" fill="#dcf0f8"/>
<rect x="715.8" y="1544.9" width="250.10000000000002" height="257.39999999999986" fill="none" stroke="#555" stroke-width="1.6"/>
<text x="978.28" y="1655.60" font-size="46.50" textLength="135.06" lengthAdjust="spacingAndGlyphs" fill="#231f20" stroke="#ffffff" stroke-width="0.5">Sharing</text>
<rect x="985.5" y="1671.5" width="123.9" height="31.9" fill="url(#gShare)"/>
<use href="#human" x="734.9" y="1449.7" width="43.3" height="79.2"/>
<use href="#jaw" x="791.8" y="1468.8" width="75.2" height="44.6"/>
<use href="#skull" x="884.6" y="1442.6" width="75.6" height="93.6"/>
<use href="#skull" x="622.4" y="1533.5" width="77.0" height="93.4"/>
<use href="#jaw" x="623.3" y="1645.6" width="76.1" height="42.8"/>
<use href="#human" x="639.2" y="1719.4" width="43.3" height="79.7"/>
<line x1="1317.5" y1="1440.0" x2="1317.5" y2="1781.2" stroke="#231f20" stroke-width="3"/>
<polygon fill="#231f20" points="1311.3,1447.0 1317.5,1422.3 1323.7,1447.0"/>
<line x1="1316.0" y1="1779.5" x2="1695.0" y2="1779.5" stroke="#231f20" stroke-width="3"/>
<polygon fill="#231f20" points="1692.0,1773.3 1717.1,1779.5 1692.0,1785.7"/>
<path fill="none" stroke="#231f20" stroke-width="5.8" d="M1318.2,1508 L1318.2,1511.4 C1318.6,1582.3 1335.9,1655.2 1426.4,1704.8 C1519.7,1756.0 1590.3,1767.2 1642.3,1772.4"/>
<circle cx="1348.1" cy="1564.5" r="9.4" fill="#c8362f"/>
<circle cx="1328.5" cy="1610" r="9.4" fill="#c8362f"/>
<circle cx="1348.1" cy="1629.6" r="9.4" fill="#c8362f"/>
<circle cx="1393.6" cy="1650.1" r="9.4" fill="#c8362f"/>
<circle cx="1411.8" cy="1668.3" r="9.4" fill="#c8362f"/>
<circle cx="1413.2" cy="1711.6" r="9.4" fill="#c8362f"/>
<circle cx="1481.1" cy="1693.4" r="9.4" fill="#c8362f"/>
<circle cx="1481.1" cy="1731.7" r="9.4" fill="#c8362f"/>
<circle cx="1499.3" cy="1750.3" r="9.4" fill="#c8362f"/>
<circle cx="1534.9" cy="1731.7" r="9.4" fill="#c8362f"/>
<circle cx="1554" cy="1750.3" r="9.4" fill="#c8362f"/>
<circle cx="1572.2" cy="1769.5" r="9.4" fill="#c8362f"/>
<circle cx="1645.1" cy="1769.5" r="9.4" fill="#c8362f"/>
<use href="#jaw" x="1451.5" y="1489.1" width="145.0" height="81.8"/>
<g transform="translate(1288.5,1772) rotate(-90)"><text x="-0.08" y="0.00" font-size="47.50" textLength="344.86" lengthAdjust="spacingAndGlyphs" fill="#231f20" stroke="#ffffff" stroke-width="0.5">Ancestry covariance</text></g>
<text x="1336.08" y="1823.30" font-size="46.50" textLength="307.51" lengthAdjust="spacingAndGlyphs" fill="#231f20" stroke="#ffffff" stroke-width="0.5">Genomic distance</text>
<circle cx="2027.1" cy="1438.8" r="17.5" fill="#ea7b25"/>
<text x="2051.48" y="1454.40" font-size="46.50" textLength="133.17" lengthAdjust="spacingAndGlyphs" fill="#231f20" stroke="#ffffff" stroke-width="0.5">Positive</text>
<circle cx="2240.3" cy="1438.8" r="17.6" fill="#1fad4b"/>
<text x="2263.50" y="1454.40" font-size="46.50" textLength="149.09" lengthAdjust="spacingAndGlyphs" fill="#231f20" stroke="#ffffff" stroke-width="0.5">Negative</text>
<line x1="1926.2" y1="1518.9" x2="1926.2" y2="1784.6" stroke="#231f20" stroke-width="3"/>
<line x1="1924.7" y1="1783.1" x2="2483.4" y2="1783.1" stroke="#231f20" stroke-width="3"/>
<line x1="2007.3" y1="1569.9" x2="2164.5" y2="1569.9" stroke="#c9423b" stroke-width="4"/>
<line x1="2053.8" y1="1596.4" x2="2241.9" y2="1596.4" stroke="#c9423b" stroke-width="4"/>
<line x1="2408.2" y1="1600.0" x2="2461.5" y2="1600.0" stroke="#c9423b" stroke-width="4"/>
<line x1="2091.6" y1="1623.7" x2="2172.7" y2="1623.7" stroke="#c9423b" stroke-width="4"/>
<line x1="2068.8" y1="1645.6" x2="2150.8" y2="1645.6" stroke="#c9423b" stroke-width="4"/>
<line x1="2213.2" y1="1650.1" x2="2252.4" y2="1650.1" stroke="#c9423b" stroke-width="4"/>
<line x1="2053.8" y1="1667.0" x2="2131.7" y2="1667.0" stroke="#c9423b" stroke-width="4"/>
<line x1="1989.0" y1="1693.4" x2="2028.7" y2="1693.4" stroke="#c9423b" stroke-width="4"/>
<line x1="2068.8" y1="1693.4" x2="2150.8" y2="1693.4" stroke="#c9423b" stroke-width="4"/>
<line x1="2032.3" y1="1720.7" x2="2114.4" y2="1720.7" stroke="#c9423b" stroke-width="4"/>
<line x1="2190.4" y1="1720.7" x2="2229.6" y2="1720.7" stroke="#c9423b" stroke-width="4"/>
<line x1="1952.6" y1="1747.6" x2="1992.3" y2="1747.6" stroke="#c9423b" stroke-width="4"/>
<line x1="2053.8" y1="1747.6" x2="2132.6" y2="1747.6" stroke="#c9423b" stroke-width="4"/>
<line x1="2418.2" y1="1747.6" x2="2468.3" y2="1747.6" stroke="#c9423b" stroke-width="4"/>
<rect x="2051.2" y="1518.9" width="76.6" height="249.5" fill="none" stroke="#ec8a2d" stroke-width="5.2" stroke-linejoin="round"/>
<rect x="2257.9" y="1525.4" width="143.7" height="250.1" fill="none" stroke="#21a849" stroke-width="5.6" stroke-linejoin="round"/>
<use href="#skull" x="1828.2" y="1512.0" width="69.8" height="82.0"/>
<use href="#jaw" x="1828.2" y="1648.7" width="69.0" height="35.1"/>
<use href="#human" x="1843.0" y="1720.7" width="40.0" height="70.6"/>
<circle cx="1862.9" cy="1612.3" r="2.6" fill="#231f20"/>
<circle cx="1862.9" cy="1641.9" r="2.6" fill="#231f20"/>
<circle cx="1862.9" cy="1703.4" r="2.6" fill="#231f20"/>
<line x1="2508.3" y1="1600.5" x2="2508.3" y2="1760.0" stroke="#231f20" stroke-width="3"/>
<polygon fill="#231f20" points="2501.5,1756.0 2508.3,1780.9 2515.1,1756.0"/>
<g transform="translate(2499.3,1509.8) rotate(90)"><text x="-0.87" y="0.00" font-size="47.00" textLength="86.87" lengthAdjust="spacingAndGlyphs" fill="#231f20" stroke="#ffffff" stroke-width="0.5">Time</text></g>
<text x="2070.46" y="1823.30" font-size="46.50" textLength="300.03" lengthAdjust="spacingAndGlyphs" fill="#231f20" stroke="#ffffff" stroke-width="0.5">Genomic location</text>
<path fill="none" stroke="#231f20" stroke-width="4.3" d="M598.2,1819.6 V1846.9 H2569.9 V1819.6"/>
<line x1="1316.5" y1="1846.9" x2="1316.5" y2="1891.5" stroke="#231f20" stroke-width="4.3"/>
<polygon fill="#231f20" points="1309.3,1889.5 1316.5,1915.0 1323.7,1889.5"/>
<path fill="none" stroke="#231f20" stroke-width="3" d="M924.1,1943.2 V1971.1 M924.1,1958.7 H1157.8 M1470.1,1958.7 H1718.6 M1718.6,1943.2 V1971.1"/>
<text x="1160.69" y="1962.60" font-size="46.50" textLength="300.02" lengthAdjust="spacingAndGlyphs" fill="#231f20" stroke="#ffffff" stroke-width="0.5">~7000 years long</text>
<rect x="919.4" y="1984.7" width="802" height="55.5" fill="#c1372f"/>
<text x="923.99" y="2025.50" font-size="48.00" textLength="792.49" lengthAdjust="spacingAndGlyphs" fill="#ffffff" stroke="#c1372f" stroke-width="0.8">Single extended period of Neanderthal gene flow</text>
<rect x="1182" y="2040" width="881" height="54.4" fill="url(#gOr1)"/>
<text x="1465.42" y="2081.00" font-size="48.00" textLength="511.99" lengthAdjust="spacingAndGlyphs" fill="#231f20" stroke="url(#gOr1)" stroke-width="0.9">Immediately selected variants</text>
<rect x="1158" y="2099.2" width="816" height="55.4" fill="url(#gGr)"/>
<text x="1301.47" y="2143.30" font-size="48.00" textLength="618.38" lengthAdjust="spacingAndGlyphs" fill="#231f20" stroke="url(#gGr)" stroke-width="0.9">Rapid purging of Neanderthal alleles</text>
<rect x="1974" y="2101" width="547.2" height="55.6" fill="url(#gOr2)"/>
<text x="1994.91" y="2143.30" font-size="48.00" textLength="512.97" lengthAdjust="spacingAndGlyphs" fill="#231f20" stroke="url(#gOr2)" stroke-width="0.9">Selection on standing variants</text>
<line x1="595.0" y1="2160.7" x2="2550.0" y2="2160.7" stroke="#231f20" stroke-width="8.5"/>
<polygon fill="#231f20" points="2544.7,2148.7 2587.4,2160.7 2544.7,2172.7"/>
<line x1="803.4" y1="2160.0" x2="803.4" y2="2183.5" stroke="#231f20" stroke-width="3.2"/>
<line x1="1321.7" y1="2160.0" x2="1321.7" y2="2183.5" stroke="#231f20" stroke-width="3.2"/>
<line x1="1923.0" y1="2160.0" x2="1923.0" y2="2183.5" stroke="#231f20" stroke-width="3.2"/>
<text x="592.19" y="2220.00" font-size="48.40" textLength="415.43" lengthAdjust="spacingAndGlyphs" fill="#231f20" font-weight="bold" stroke="#231f20" stroke-width="0.8">Out-of-Africa migration</text>
<text x="1212.32" y="2223.00" font-size="48.40" textLength="196.20" lengthAdjust="spacingAndGlyphs" fill="#231f20" font-weight="bold" stroke="#231f20" stroke-width="0.8">~47,000 ya</text>
<text x="1760.88" y="2220.10" font-size="48.40" textLength="330.62" lengthAdjust="spacingAndGlyphs" fill="#231f20" font-weight="bold" stroke="#231f20" stroke-width="0.8">Last Neanderthals</text>
<text x="2376.94" y="2222.80" font-size="48.40" textLength="211.19" lengthAdjust="spacingAndGlyphs" fill="#231f20" font-weight="bold" stroke="#231f20" stroke-width="0.8">Present day</text>
</svg>
</body></html>
